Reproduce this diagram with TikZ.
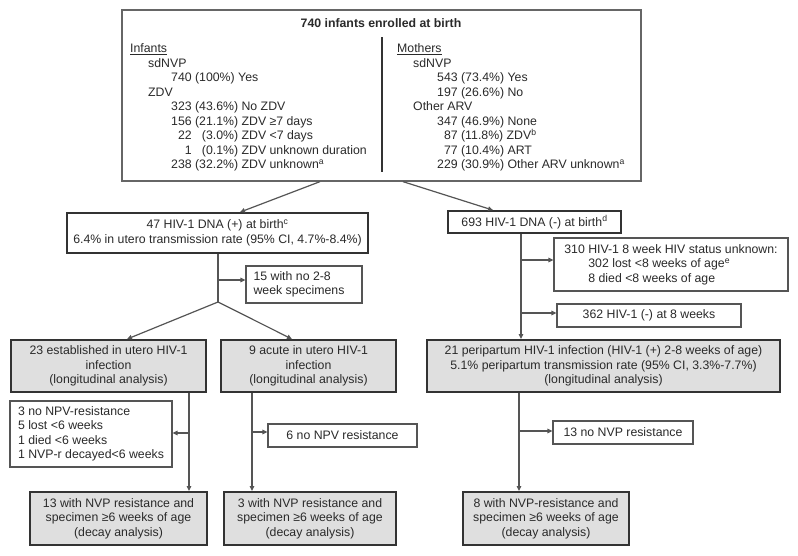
\documentclass[tikz,border=0pt]{standalone}
\usepackage{fontspec}
\setmainfont{Liberation Sans}
\usetikzlibrary{arrows.meta}
\definecolor{txt}{HTML}{2A2A2A}
\definecolor{lncol}{HTML}{555555}
\definecolor{dark}{HTML}{333333}
\definecolor{boxfill}{HTML}{DFDFDF}
\begin{document}
\begin{tikzpicture}[x=1pt,y=-1pt,
  font=\fontsize{12.3}{14.5}\selectfont,
  every node/.style={text=txt, inner sep=0pt},
  topbox/.style={draw=lncol!90, line width=1.3pt, fill=white, minimum width=519pt, minimum height=171pt},
  wbox/.style={draw=lncol, line width=1.1pt, fill=white, align=left},
  wboxb/.style={draw=dark, line width=1.7pt, fill=white, align=center},
  gbox/.style={draw=dark, line width=1.8pt, fill=boxfill, align=center},
  conn/.style={draw=lncol, line width=1.2pt},
  arr/.style={conn, -{Triangle[length=5pt,width=4.5pt]}}
]
\useasboundingbox (0,0) rectangle (798,556);
\fill[white] (0,0) rectangle (798,556);

% ---------- top box ----------
\node[topbox] (top) at (381.5,95.5) {};
\node[font=\fontsize{12.3}{14.5}\selectfont\bfseries] (title) at (381,23) {740 infants enrolled at birth};
\draw[draw=dark, line width=1.8pt] (top.north -| 382,0) ++(0,28) coordinate (dv1) -- (dv1 |- 0,172) coordinate (dv2);
\node[anchor=north west, align=left] (inf) at (130,43.5) {%
\underline{Infants}\\
\hspace*{18pt}sdNVP\\
\hspace*{41pt}740 (100\%) Yes\\
\hspace*{18pt}ZDV\\
\hspace*{41pt}323 (43.6\%) No ZDV\\
\hspace*{41pt}156 (21.1\%) ZDV ≥7 days\\
\hspace*{41pt}\hphantom{0}22 \hphantom{0}(3.0\%) ZDV <7 days\\
\hspace*{41pt}\hphantom{00}1 \hphantom{0}(0.1\%) ZDV unknown duration\\
\hspace*{41pt}238 (32.2\%) ZDV unknown\textsuperscript{a}};
\node[anchor=north west, align=left] (mot) at (397,43.5) {%
\underline{Mothers}\\
\hspace*{16pt}sdNVP\\
\hspace*{40pt}543 (73.4\%) Yes\\
\hspace*{40pt}197 (26.6\%) No\\
\hspace*{16pt}Other ARV\\
\hspace*{40pt}347 (46.9\%) None\\
\hspace*{40pt}\hphantom{0}87 (11.8\%) ZDV\textsuperscript{b}\\
\hspace*{40pt}\hphantom{0}77 (10.4\%) ART\\
\hspace*{40pt}229 (30.9\%) Other ARV unknown\textsuperscript{a}};

% ---------- second level ----------
\node[wboxb, minimum width=301pt, minimum height=40pt] (n47) at (217.5,233)
  {47 HIV-1 DNA (+) at birth\textsuperscript{c}\\6.4\% in utero transmission rate (95\% CI, 4.7\%-8.4\%)};
\node[wboxb, minimum width=173pt, minimum height=22pt] (n693) at (534.5,222)
  {693 HIV-1 DNA (-) at birth\textsuperscript{d}};

\node[wbox, minimum width=116pt, minimum height=37pt] (n15) at (304,284.5)
  {15 with no 2-8\\week specimens\hspace*{10pt}};
\node[wbox, minimum width=234pt, minimum height=53pt] (n310) at (671,264.5)
  {310 HIV-1 8 week HIV status unknown:\\
   \hspace*{24pt}302 lost <8 weeks of age\textsuperscript{e}\\
   \hspace*{24pt}8 died <8 weeks of age};
\node[wbox, minimum width=184pt, minimum height=23pt, align=center] (n362) at (649,315.5)
  {362 HIV-1 (-) at 8 weeks};

% ---------- third level ----------
\node[gbox, minimum width=195pt, minimum height=52pt] (n23) at (108.5,366)
  {23 established in utero HIV-1\\infection\\(longitudinal analysis)};
\node[gbox, minimum width=175pt, minimum height=52pt] (n9) at (308.5,366)
  {9 acute in utero HIV-1\\infection\\(longitudinal analysis)};
\node[gbox, minimum width=353pt, minimum height=52pt] (n21) at (603.5,366)
  {21 peripartum HIV-1 infection (HIV-1 (+) 2-8 weeks of age)\\
   5.1\% peripartum transmission rate (95\% CI, 3.3\%-7.7\%)\\
   (longitudinal analysis)};

\node[wbox, minimum width=162pt, minimum height=66pt] (n3no) at (91,434)
  {3 no NPV-resistance\\5 lost <6 weeks\\1 died <6 weeks\\1 NVP-r decayed<6 weeks};
\node[wbox, minimum width=149pt, minimum height=23pt, align=center] (n6no) at (342.5,435.5)
  {6 no NPV resistance};
\node[wbox, minimum width=140pt, minimum height=23pt, align=center] (n13no) at (623,432.5)
  {13 no NVP resistance};

% ---------- bottom level ----------
\node[gbox, minimum width=177pt, minimum height=53pt] (b13) at (118.5,518.5)
  {13 with NVP resistance and\\specimen ≥6 weeks of age\\(decay analysis)};
\node[gbox, minimum width=172pt, minimum height=53pt] (b3) at (310,518.5)
  {3 with NVP resistance and\\specimen ≥6 weeks of age\\(decay analysis)};
\node[gbox, minimum width=166pt, minimum height=53pt] (b8) at (546,518.5)
  {8 with NVP-resistance and\\specimen ≥6 weeks of age\\(decay analysis)};

% ---------- connectors ----------
\draw[arr] (top.south -| 320,0) -- (n47.north -| 240,0);
\draw[arr] (top.south -| 403,0) -- (n693.north -| 493,0);

\coordinate (s1) at (218,302);
\coordinate (j15) at (218,280);
\draw[conn] (n47.south -| s1) -- (s1);
\draw[arr] (j15) -- (n15.west |- j15);
\draw[arr] (s1) -- (n23.north -| 127,0);
\draw[arr] (s1) -- (n9.north -| 292,0);

\coordinate (j310) at (521,260);
\coordinate (j362) at (521,313);
\draw[arr] (n693.south -| j310) -- (n21.north -| j310);
\draw[arr] (j310) -- (n310.west |- j310);
\draw[arr] (j362) -- (n362.west |- j362);

\coordinate (j23) at (189,433);
\draw[arr] (n23.south -| j23) -- (b13.north -| j23);
\draw[arr] (j23) -- (n3no.east |- j23);

\coordinate (j9) at (252,432);
\draw[arr] (n9.south -| j9) -- (b3.north -| j9);
\draw[arr] (j9) -- (n6no.west |- j9);

\coordinate (j21) at (519,431);
\draw[arr] (n21.south -| j21) -- (b8.north -| j21);
\draw[arr] (j21) -- (n13no.west |- j21);
\end{tikzpicture}
\end{document}
